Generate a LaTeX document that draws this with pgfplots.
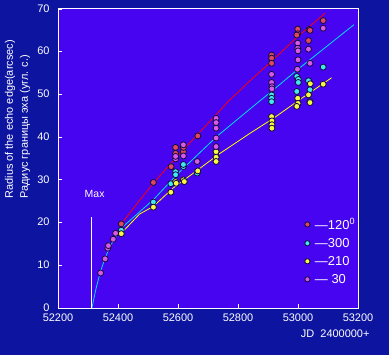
\documentclass[border=0pt]{standalone}
\usepackage{pgfplots}
\pgfplotsset{compat=1.18}
\usepackage{fontspec}
\setmainfont{Liberation Sans}
\definecolor{outerbg}{RGB}{12,20,160}
\definecolor{plotbg}{RGB}{70,4,240}
\definecolor{ptred}{RGB}{224,72,96}
\definecolor{ptcyan}{RGB}{64,232,240}
\definecolor{ptyellow}{RGB}{248,248,64}
\definecolor{ptpink}{RGB}{216,88,232}
\definecolor{ptedge}{RGB}{20,10,60}
\definecolor{lnred}{RGB}{255,0,0}
\definecolor{lncyan}{RGB}{0,224,240}
\definecolor{lnyellow}{RGB}{255,255,0}
\begin{document}
\begin{tikzpicture}[x=1bp,y=1bp]
\fill[outerbg] (0,0) rectangle (389,355);
\begin{axis}[
  at={(58bp,47bp)}, anchor=south west,
  scale only axis, width=300bp, height=299bp,
  xmin=52200, xmax=53200, ymin=0, ymax=70,
  xtick={52200,52400,52600,52800,53000,53200},
  ytick={0,10,20,30,40,50,60,70},
  scaled x ticks=false, scaled y ticks=false,
  xticklabel style={/pgf/number format/fixed, /pgf/number format/precision=0, yshift=-2bp},
  xtick pos=left, ytick pos=left,
  tick align=inside, major tick length=4bp,
  axis background/.style={fill=plotbg},
  axis line style={white, line width=1bp},
  tick style={white, line width=0.8bp},
  /pgf/number format/assume math mode=true,
  /pgf/number format/1000 sep={},
  ticklabel style={font=\fontsize{11}{13}\selectfont, text=white},
  yticklabel style={xshift=-5bp, yshift=0.5bp},
  legend style={at={(axis cs:53022,21.5)}, anchor=north west, draw=none, fill=none,
    text=white, font=\fontsize{13}{14}\selectfont, row sep=3.5bp, column sep=3bp, inner sep=0pt,
    cells={anchor=west}},
  legend image code/.code={\draw[#1, mark size=2.6bp] plot coordinates {(0cm,0cm)};},
]
% fitted lines
\addplot[lnred, line width=0.8bp, forget plot] coordinates {
(52411,19.7)(52473,25.3)(52520,29.4)(52600,35.7)(52730,45.5)(52768,48.4)(52840,53.2)(52920,58.3)(53000,63.6)(53090,69.0)};
\addplot[lncyan, line width=0.8bp, forget plot] coordinates {
(52313,0)(52326,4.3)(52340,8.2)(52357,11.7)(52375,14.6)(52395,16.9)(52411,18.7)(52520,25.5)(52600,31.5)(52730,40.2)(52840,46.6)(52920,51.2)(53000,55.9)(53186,66.3)};
\addplot[lnyellow, line width=0.8bp, forget plot] coordinates {
(52411,17.5)(52472,22.0)(52518,23.8)(52584,28.1)(52673,32.7)(52740,36.2)(52840,40.9)(52920,44.5)(53000,48.5)(53112,53.9)};
% Max marker
\addplot[white, line width=1bp, forget plot] coordinates {(52311,0)(52311,21.3)};
\node[text=white, font=\fontsize{10.5}{12}\selectfont] at (axis cs:52322,26.6) {Max};
% points
\addplot[only marks, mark=*, mark size=3bp, mark options={fill=ptred, draw=ptedge, line width=0.8bp}] coordinates {
(52411,19.7)(52518,29.4)(52577,33.1)(52592,37.6)(52592,36.2)(52618,36.6)(52618,37.6)(52666,40.3)
(52912,59.2)(52912,58.5)(52912,57.3)(52999,65.3)(52999,64.2)(52996,63.9)(53037,65.2)(53040,65.0)(53035,62.6)(53084,67.3)};
\addlegendentry{—120\textsuperscript{0}}
\addplot[only marks, mark=*, mark size=3bp, mark options={fill=ptcyan, draw=ptedge, line width=0.8bp}] coordinates {
(52411,18.2)(52518,24.8)(52576,29.1)(52592,31.9)(52592,31.2)(52618,33.1)(52618,33.6)(52664,31.6)(52727,36.6)(52727,35.5)
(52912,49.9)(52912,49.1)(52912,48.3)(52996,54.2)(53001,53.5)(53001,52.8)(52996,50.7)(53035,53.2)(53040,51.1)(53040,48.3)(53084,56.4)};
\addlegendentry{—300}
\addplot[only marks, mark=*, mark size=3bp, mark options={fill=ptyellow, draw=ptedge, line width=0.8bp}] coordinates {
(52411,17.4)(52518,23.6)(52576,27.1)(52592,29.6)(52594,29.2)(52618,30.0)(52621,29.6)(52666,32.1)(52727,36.6)(52727,35.3)(52727,34.3)
(52912,44.8)(52913,43.8)(52913,42.9)(52913,42.1)(52999,49.1)(53000,47.9)(52996,47.2)(53035,49.9)(53040,48.1)(53041,52.5)(53084,52.4)};
\addlegendentry{—210}
\addplot[only marks, mark=*, mark size=3bp, mark options={fill=ptpink, draw=ptedge, line width=0.8bp}] coordinates {
(52342,8.2)(52357,11.5)(52366,14.0)(52368,14.6)(52384,16.1)(52392,17.5)(52592,34.9)(52592,35.5)(52618,35.6)(52618,38.2)(52664,34.3)
(52727,44.4)(52727,43.4)(52727,42.1)(52727,39.8)(52727,37.8)(52912,54.7)(52912,52.8)(52913,51.8)(52913,51.3)
(52999,62.0)(52999,60.8)(53000,60.2)(53000,58.1)(52998,55.9)(53035,60.6)(53040,57.3)(53084,65.5)};
\addlegendentry{— 30}
\end{axis}
\node[rotate=90, anchor=west, text=white, font=\fontsize{11}{13}\selectfont] at (10,153) {Radius of the echo edge(arcsec)};
\node[rotate=90, anchor=west, text=white, font=\fontsize{11}{13}\selectfont] at (25,153) {Радиус границы эха (угл. с.)};
\node[anchor=east, text=white, font=\fontsize{11}{13}\selectfont] at (373,21) {JD\ \ 2400000+};
\pgfresetboundingbox
\path (0,0) rectangle (389,355);
\end{tikzpicture}
\end{document}
